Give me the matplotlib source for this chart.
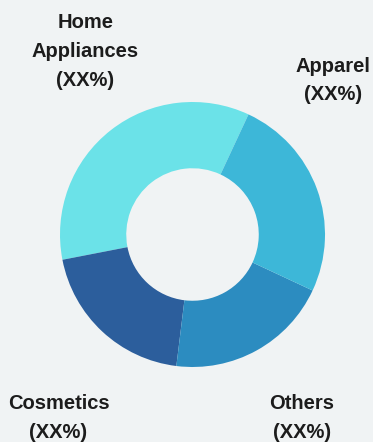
import matplotlib
matplotlib.use("Agg")
import matplotlib.pyplot as plt

categories = ["Home\nAppliances", "Cosmetics", "Others", "Apparel"]
shares = [35, 20, 20, 25]
colors = ["#6be2e8", "#2c5e9c", "#2c8cc0", "#3db7d8"]
pct_labels = ["(XX%)", "(XX%)", "(XX%)", "(XX%)"]

W, H = 373, 442
bg = "#f0f3f4"
fig = plt.figure(figsize=(W / 100, H / 100), dpi=100, facecolor=bg)

cx, cy, r = 192.5, 234.5, 132.5
ax = fig.add_axes([(cx - r) / W, (H - cy - r) / H, 2 * r / W, 2 * r / H])
ax.set_facecolor(bg)
ax.pie(shares, colors=colors, startangle=65, counterclock=True,
       wedgeprops=dict(width=0.5, linewidth=0))
ax.set_xlim(-1, 1)
ax.set_ylim(-1, 1)
ax.set_aspect("equal")
ax.axis("off")

# label positions in pixels (x center, y center of block)
label_pos = [(85.5, 51.5), (58.5, 418), (302, 418), (333, 80.5)]
for cat, pct, (lx, ly) in zip(categories, pct_labels, label_pos):
    fig.text(lx / W, 1 - ly / H, f"{cat}\n{pct}", ha="center", va="center",
             fontsize=14.5, fontweight="bold", family="Liberation Sans",
             color="#1c1c1c", linespacing=1.65)

fig.savefig("out.png", dpi=100, facecolor=bg)
